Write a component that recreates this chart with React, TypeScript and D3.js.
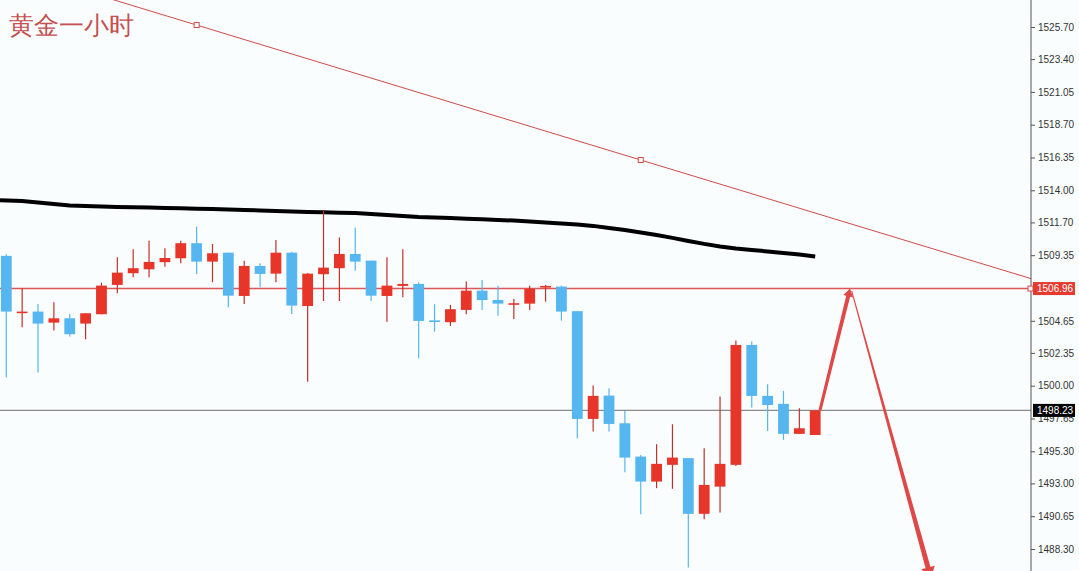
import React, { useEffect, useRef } from "react";
import * as d3 from "d3";

// hourly gold candles
const opens = [
  1509.30, 1505.29, 1505.31, 1504.52, 1504.83, 1504.45, 1505.12, 1507.22, 1508.06, 1508.34,
  1508.85, 1509.13, 1510.21, 1508.89, 1509.53, 1506.43, 1508.58, 1508.03, 1509.53, 1505.71,
  1507.99, 1508.42, 1509.44, 1508.96, 1506.43, 1507.15, 1507.29, 1504.68, 1504.55, 1505.43,
  1506.81, 1506.14, 1505.88, 1505.88, 1507.03, 1507.10, 1505.34, 1497.62, 1499.29, 1497.31,
  1494.92, 1493.13, 1494.33, 1494.81, 1490.82, 1492.77, 1494.33, 1502.92, 1499.27, 1498.70,
  1496.55, 1496.47,
];
const highs = [
  1509.42, 1506.98, 1505.86, 1505.98, 1505.14, 1505.19, 1507.38, 1509.20, 1509.78, 1510.39,
  1509.85, 1510.39, 1511.40, 1510.16, 1509.53, 1508.96, 1508.77, 1510.44, 1509.60, 1508.06,
  1512.52, 1510.61, 1511.32, 1508.96, 1509.20, 1509.78, 1507.41, 1505.84, 1505.79, 1507.46,
  1507.58, 1507.17, 1506.22, 1507.17, 1507.22, 1507.17, 1505.34, 1500.01, 1499.82, 1498.19,
  1495.04, 1495.81, 1497.24, 1494.81, 1495.52, 1499.22, 1503.23, 1503.16, 1500.11, 1499.63,
  1498.39, 1498.23,
];
const lows = [
  1500.58, 1504.19, 1500.94, 1503.95, 1503.52, 1503.33, 1505.12, 1506.62, 1507.77, 1507.77,
  1508.53, 1508.77, 1508.01, 1507.41, 1505.62, 1505.86, 1507.05, 1507.41, 1505.14, 1500.29,
  1506.07, 1506.07, 1508.24, 1506.07, 1504.59, 1506.34, 1501.97, 1503.87, 1504.28, 1505.12,
  1505.43, 1505.02, 1504.78, 1505.43, 1506.02, 1504.66, 1496.24, 1496.71, 1496.71, 1493.80,
  1490.79, 1492.66, 1492.61, 1486.97, 1490.44, 1490.91, 1494.25, 1498.43, 1496.76, 1496.12,
  1496.55, 1496.47,
];
const closes = [
  1505.31, 1505.31, 1504.45, 1504.83, 1503.69, 1505.19, 1507.17, 1508.10, 1508.42, 1508.87,
  1509.15, 1510.21, 1508.89, 1509.49, 1506.45, 1508.58, 1508.01, 1509.53, 1505.74, 1508.03,
  1508.46, 1509.44, 1508.89, 1506.45, 1507.17, 1507.29, 1504.64, 1504.64, 1505.48, 1506.81,
  1506.14, 1505.88, 1505.91, 1506.93, 1507.15, 1505.31, 1497.62, 1499.27, 1497.26, 1494.85,
  1493.13, 1494.40, 1494.85, 1490.82, 1492.89, 1494.40, 1502.92, 1499.27, 1498.62, 1496.55,
  1496.95, 1498.23,
];
// black moving average
const maValues = [
  1513.29, 1513.24, 1513.13, 1513.02, 1512.91, 1512.88, 1512.84, 1512.81, 1512.78, 1512.76,
  1512.73, 1512.71, 1512.68, 1512.66, 1512.63, 1512.59, 1512.56, 1512.52, 1512.48, 1512.45,
  1512.43, 1512.40, 1512.38, 1512.31, 1512.23, 1512.16, 1512.09, 1512.05, 1512.02, 1511.97,
  1511.93, 1511.88, 1511.83, 1511.77, 1511.70, 1511.62, 1511.55, 1511.45, 1511.30, 1511.16,
  1510.98, 1510.80, 1510.59, 1510.37, 1510.16, 1509.98, 1509.83, 1509.73, 1509.62, 1509.51,
  1509.40, 1509.26,
];
const tickValues = [
  1525.7, 1523.4, 1521.05, 1518.7, 1516.35, 1514.0, 1511.7, 1509.35, 1507.0, 1504.65,
  1502.35, 1500.0, 1497.65, 1495.3, 1493.0, 1490.65, 1488.3,
];
const resistance = 1506.96;
const lastPrice = 1498.23;
const trendIdx = [12, 40];
const trendPrice = [1525.84, 1516.17];
const upArrowIdx = [51.3, 53.2];
const upArrowPrice = [1498.23, 1506.96];
const downArrowIdx = [53.3, 58.3];
const downArrowPrice = [1506.8, 1486.2];
const title = "黄金一小时";

const W = 1079;
const H = 571;
const axisX = 1031;
const axisFont = "'Liberation Sans', Arial, sans-serif";

// tapered arrow polygon from (x1,y1) to (x2,y2)
function arrowPath(x1: number, y1: number, x2: number, y2: number, w1: number, w2: number, head: number) {
  const dx = x2 - x1, dy = y2 - y1;
  const len = Math.hypot(dx, dy);
  const ux = dx / len, uy = dy / len;
  const nx = -uy, ny = ux;
  const bx = x2 - ux * head * 1.6, by = y2 - uy * head * 1.6;
  const pts = [
    [x1 + nx * w1 / 2, y1 + ny * w1 / 2],
    [bx + nx * w2 / 2, by + ny * w2 / 2],
    [bx + nx * head, by + ny * head],
    [x2, y2],
    [bx - nx * head, by - ny * head],
    [bx - nx * w2 / 2, by - ny * w2 / 2],
    [x1 - nx * w1 / 2, y1 - ny * w1 / 2],
  ];
  return "M" + pts.map(p => p.join(",")).join("L") + "Z";
}

export default function App() {
  const ref: any = useRef(null);

  useEffect(() => {
    const root = d3.select(ref.current);
    root.selectAll("*").remove();
    const svg = root.append("svg").attr("width", W).attr("height", H).style("display", "block");

    svg.append("rect").attr("width", W).attr("height", H).attr("fill", "#f9fdfd");

    const x = d3.scaleLinear().domain([0, 51]).range([6.3, 815.2]);
    const y = d3.scaleLinear().domain([1488.3, 1525.7]).range([549, 27]);

    svg.append("clipPath").attr("id", "plot")
      .append("rect").attr("x", 0).attr("y", 0).attr("width", axisX).attr("height", H);
    const g = svg.append("g").attr("clip-path", "url(#plot)");

    // horizontal lines
    g.append("line").attr("x1", 0).attr("x2", axisX)
      .attr("y1", y(lastPrice)).attr("y2", y(lastPrice))
      .attr("stroke", "#8c8c8c").attr("stroke-width", 1.2);
    g.append("line").attr("x1", 0).attr("x2", axisX)
      .attr("y1", y(resistance)).attr("y2", y(resistance))
      .attr("stroke", "#e05555").attr("stroke-width", 1.5);

    // trend line, extended both ways
    const slope = (trendPrice[1] - trendPrice[0]) / (trendIdx[1] - trendIdx[0]);
    const iRight = x.invert(axisX);
    g.append("line")
      .attr("x1", x(-5)).attr("y1", y(trendPrice[0] + (-5 - trendIdx[0]) * slope))
      .attr("x2", x(iRight)).attr("y2", y(trendPrice[0] + (iRight - trendIdx[0]) * slope))
      .attr("stroke", "#d24a4a").attr("stroke-width", 1);
    trendIdx.forEach((t, k) => {
      g.append("rect").attr("x", x(t) - 2.5).attr("y", y(trendPrice[k]) - 2.5)
        .attr("width", 5).attr("height", 5).attr("fill", "#fff").attr("stroke", "#d24a4a");
    });

    // moving average (left end runs off the chart edge)
    const ma = d3.line<number>().x((_, i) => (i === 0 ? 0 : x(i))).y(d => y(d));
    g.append("path").datum(maValues).attr("d", ma as any)
      .attr("fill", "none").attr("stroke", "#000").attr("stroke-width", 4);

    // candles
    const up = "#e8352a", down = "#55b6f0";
    opens.forEach((o, i) => {
      const c = closes[i];
      const isUp = c >= o;
      const cx = x(i);
      g.append("line").attr("x1", cx).attr("x2", cx)
        .attr("y1", y(highs[i])).attr("y2", y(lows[i]))
        .attr("stroke", isUp ? "#c2302a" : down).attr("stroke-width", 1.2);
      const top = y(Math.max(o, c));
      const h = Math.max(1.6, Math.abs(y(o) - y(c)));
      g.append("rect").attr("x", cx - 5.4).attr("y", top).attr("width", 10.8).attr("height", h)
        .attr("fill", isUp ? up : down);
    });

    // drawn arrows
    g.append("path")
      .attr("d", arrowPath(x(upArrowIdx[0]), y(upArrowPrice[0]), x(upArrowIdx[1]), y(upArrowPrice[1]), 3, 4, 5))
      .attr("fill", "#e04848");
    g.append("path")
      .attr("d", arrowPath(x(downArrowIdx[0]), y(downArrowPrice[0]), x(downArrowIdx[1]), y(downArrowPrice[1]), 1, 5, 7))
      .attr("fill", "#e04848");

    // right axis
    svg.append("line").attr("x1", axisX).attr("x2", axisX).attr("y1", 0).attr("y2", H)
      .attr("stroke", "#555").attr("stroke-width", 1);
    const axis = svg.append("g").attr("transform", `translate(${axisX},0)`)
      .call(d3.axisRight(y).tickValues(tickValues).tickSize(4).tickPadding(3).tickFormat(d3.format(".2f")) as any);
    axis.select(".domain").remove();
    axis.selectAll(".tick line").attr("stroke", "#555");
    axis.selectAll(".tick text").attr("fill", "#333")
      .style("font-family", axisFont).style("font-size", "10px");

    // marker at the right end of the red line
    svg.append("rect").attr("x", axisX - 3).attr("y", y(resistance) - 2.5)
      .attr("width", 5).attr("height", 5).attr("fill", "#fff").attr("stroke", "#d24a4a");

    const priceLabel = (v: number, bg: string) => {
      svg.append("rect").attr("x", axisX + 2).attr("y", y(v) - 6.5).attr("width", 42).attr("height", 13).attr("fill", bg);
      svg.append("text").attr("x", axisX + 6).attr("y", y(v)).attr("dy", "0.35em")
        .attr("fill", "#fff").style("font-family", axisFont).style("font-size", "10px")
        .text(v.toFixed(2));
    };
    priceLabel(resistance, "#e53a2f");
    priceLabel(lastPrice, "#000");

    svg.append("text").attr("x", 9).attr("y", 34).text(title)
      .attr("fill", "#c45050").style("font-size", "25px").style("font-family", "serif");
  }, []);

  return <div ref={ref} style={{ position: "absolute", left: 0, top: 0, width: W, height: H }}></div>;
}
